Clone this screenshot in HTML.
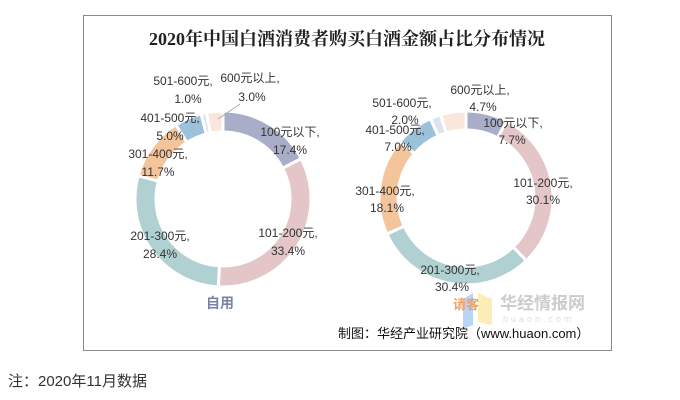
<!DOCTYPE html>
<html><head><meta charset="utf-8">
<style>
body{margin:0;background:#fff;width:680px;height:400px;overflow:hidden;font-family:"Liberation Sans","Noto Sans CJK SC",sans-serif;}
svg{position:absolute;left:0;top:0}
</style></head>
<body>
<svg width="680" height="400">
<rect x="83.5" y="15.5" width="528" height="335" fill="#fff" stroke="#8a8a8a"/>
<text x="347" y="45" text-anchor="middle" font-size="18" font-weight="bold" font-family="'Liberation Serif','Noto Serif CJK SC',serif" fill="#222">2020年中国白酒消费者购买白酒金额占比分布情况</text>
<g id="left"></g>
<g id="right"></g>
<g font-size="12" fill="#333" text-anchor="middle">
<text x="183" y="85">501-600元,</text><text x="188" y="103">1.0%</text>
<text x="250" y="82">600元以上,</text><text x="252" y="101">3.0%</text>
<line x1="240" y1="104" x2="218" y2="119" stroke="#aaa"/>
<text x="170" y="122">401-500元,</text><text x="170" y="140">5.0%</text>
<text x="158" y="158">301-400元,</text><text x="158" y="176">11.7%</text>
<text x="290" y="136">100元以下,</text><text x="290" y="154">17.4%</text>
<text x="160" y="240">201-300元,</text><text x="160" y="258">28.4%</text>
<text x="288" y="237">101-200元,</text><text x="288" y="255">33.4%</text>
<text x="402" y="107">501-600元,</text><text x="405" y="124">2.0%</text>
<text x="480" y="94">600元以上,</text><text x="483" y="111">4.7%</text>
<text x="395" y="134">401-500元,</text><text x="398" y="151">7.0%</text>
<text x="385" y="195">301-400元,</text><text x="387" y="212">18.1%</text>
<text x="513" y="127">100元以下,</text><text x="512" y="144">7.7%</text>
<text x="543" y="187">101-200元,</text><text x="543" y="204">30.1%</text>
<text x="450" y="274">201-300元,</text><text x="452" y="291">30.4%</text>
</g>
<text x="220" y="308" text-anchor="middle" font-size="14" font-weight="bold" fill="#7b82aa">自用</text>
<g>
<polygon points="463,299 473,293 473,325 463,329" fill="#a9c9f5" opacity="0.8"/>
<polygon points="478,293 492,299 492,325 478,322" fill="#fdeaa6" opacity="0.8"/>
<text x="453" y="309" font-size="13" font-weight="bold" fill="#f0a060">请客</text>
<text x="500" y="309" font-size="17" font-weight="bold" fill="#ccc">华经情报网</text>
<text x="503" y="322" font-size="9" fill="#ddd" letter-spacing="3">huaon.com</text>
</g>
<text x="338" y="338" font-size="13" fill="#111">制图：华经产业研究院（www.huaon.com）</text>
<text x="8" y="386" font-size="15" fill="#333">注：2020年11月数据</text>
</svg>
<script>
const categories=["100元以下","101-200元","201-300元","301-400元","401-500元","501-600元","600元以上"];
const selfUse=[17.4,33.4,28.4,11.7,5.0,1.0,3.0];
const gift=[7.7,30.1,30.4,18.1,7.0,2.0,4.7];
const colors=["#a9aec8","#e4c6c8","#b0d0d2","#f4c49b","#9cc1da","#dde3ec","#fbe6dc"];
const NS="http://www.w3.org/2000/svg";
function pt(cx,cy,r,a){return [cx+r*Math.sin(a),cy-r*Math.cos(a)];}
function donut(gid,vals,cx,cy,ro,ri,prefix){
  const g=document.getElementById(gid);
  const tot=vals.reduce((a,b)=>a+b,0);let a0=0;
  vals.forEach((v,i)=>{
    const a1=a0+v/tot*2*Math.PI;
    const [x1,y1]=pt(cx,cy,ro,a0),[x2,y2]=pt(cx,cy,ro,a1),[x3,y3]=pt(cx,cy,ri,a1),[x4,y4]=pt(cx,cy,ri,a0);
    const lg=(a1-a0)>Math.PI?1:0;
    const p=document.createElementNS(NS,"path");
    p.setAttribute("d",`M${x1},${y1}A${ro},${ro} 0 ${lg} 1 ${x2},${y2}L${x3},${y3}A${ri},${ri} 0 ${lg} 0 ${x4},${y4}Z`);
    p.setAttribute("fill",colors[i]);p.setAttribute("stroke","#fff");p.setAttribute("stroke-width","3");
    
    
    g.appendChild(p);a0=a1;
  });
}
donut("left",selfUse,223,199,88,67,"self-use");
donut("right",gift,466,198,87,68,"gift");
</script>
</body></html>
